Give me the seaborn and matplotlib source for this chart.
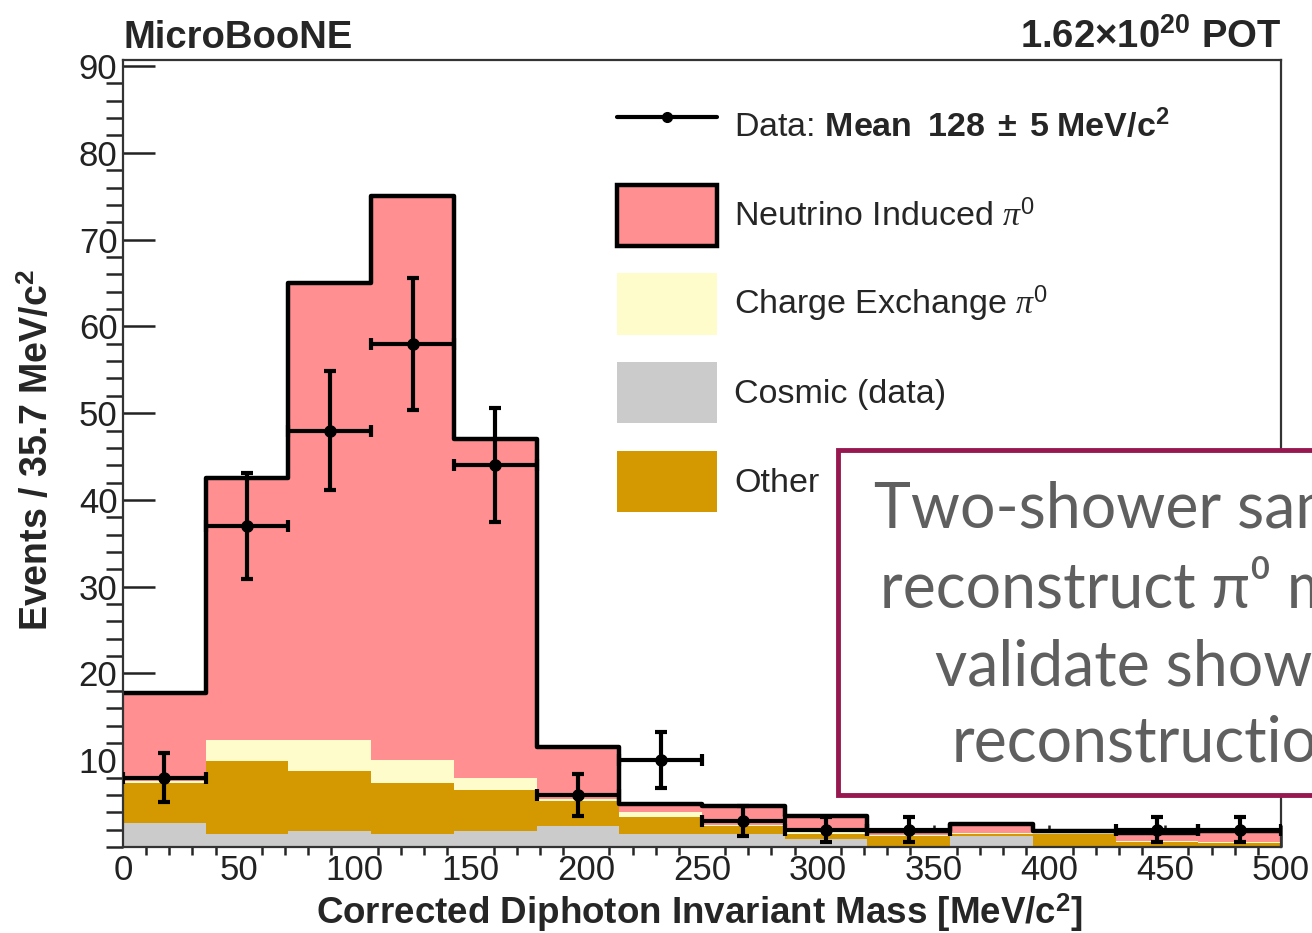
import numpy as np
import pandas as pd
import matplotlib
matplotlib.use("Agg")
import matplotlib.pyplot as plt
import seaborn as sns
from matplotlib.patches import Rectangle, Patch
from matplotlib.lines import Line2D
from matplotlib.ticker import MultipleLocator

# 14 bins of 35.7 MeV/c^2
bin_edges = [0, 35.7, 71.4, 107.1, 142.9, 178.6, 214.3, 250, 285.7, 321.4,
             357.1, 392.9, 428.6, 464.3, 500]

# stacked components, bottom to top
cosmic = [2.8, 1.5, 1.8, 1.5, 1.8, 2.4, 1.5, 1.5, 0.9, 0.1, 1.3, 0.0, 0.1, 0.1]
other = [4.6, 8.4, 7.0, 5.9, 4.8, 2.9, 1.9, 0.9, 0.6, 1.2, 0.2, 1.5, 0.5, 0.4]
cex = [0.2, 2.4, 3.5, 2.6, 1.4, 0.2, 0.6, 0.1, 0.2, 0.1, 0.1, 0.1, 0.1, 0.1]
nu = [10.2, 30.2, 52.7, 65.0, 39.0, 6.0, 1.0, 2.2, 1.9, 0.5, 1.0, 0.2, 0.9, 1.3]

# data points
data = [8, 37, 48, 58, 44, 6, 10, 3, 2, 2, 0, 0, 2, 2]
data_err = [2.8, 6.1, 6.9, 7.6, 6.6, 2.4, 3.2, 1.7, 1.4, 1.4, 0, 0, 1.4, 1.4]

labels = ["Neutrino Induced $\\pi^{0}$", "Charge Exchange $\\pi^{0}$",
          "Cosmic (data)", "Other"]
colors = {"nu": "#ff8f91", "cex": "#fffccb", "cosmic": "#cbcbcb", "other": "#d49800"}

edges = np.array(bin_edges)
centers = 0.5 * (edges[1:] + edges[:-1])
half_w = 0.5 * (edges[1:] - edges[:-1])

df = pd.DataFrame({"mass": centers, "cosmic": cosmic, "other": other,
                   "cex": cex, "nu": nu, "data": data, "err": data_err})
df["lvl_cosmic"] = df["cosmic"]
df["lvl_other"] = df["lvl_cosmic"] + df["other"]
df["lvl_cex"] = df["lvl_other"] + df["cex"]
df["lvl_nu"] = df["lvl_cex"] + df["nu"]

sns.set_style("ticks")
plt.rcParams["font.family"] = ["Liberation Sans", "DejaVu Sans"]
plt.rcParams["mathtext.fontset"] = "custom"
plt.rcParams["mathtext.rm"] = "Liberation Sans"
plt.rcParams["mathtext.bf"] = "Liberation Sans:bold"
plt.rcParams["mathtext.it"] = "Liberation Serif:italic"

fig = plt.figure(figsize=(13.12, 9.33), dpi=100)
ax = fig.add_axes([123 / 1312, 1 - 847 / 933, 1158 / 1312, 787 / 933])

# stack drawn as overlapping cumulative levels, top level first
for key in ["nu", "cex", "other", "cosmic"]:
    sns.histplot(data=df, x="mass", weights="lvl_" + key, bins=bin_edges,
                 element="step", fill=True, color=colors[key], alpha=1,
                 linewidth=0, ax=ax)
sns.histplot(data=df, x="mass", weights="lvl_nu", bins=bin_edges,
             element="step", fill=False, color="black", linewidth=3.2, ax=ax)

mask = df["data"] > 0
pts = df[mask]
ax.errorbar(pts["mass"], pts["data"], xerr=half_w[mask], yerr=pts["err"],
            fmt="o", color="black", ms=8, elinewidth=3, capsize=4, capthick=3,
            zorder=5)

ax.set_xlim(0, 500)
ax.set_ylim(0, 90.7)
ax.set_xticks(range(0, 501, 50))
ax.set_yticks(range(10, 91, 10))
ax.xaxis.set_minor_locator(MultipleLocator(10))
ax.yaxis.set_minor_locator(MultipleLocator(2))
ax.tick_params(direction="in", top=False, right=False, colors="#222222",
               labelsize=25, width=1.8)
ax.tick_params(axis="y", which="major", length=23, pad=4)
ax.tick_params(axis="y", which="minor", length=12, width=1.8)
ax.tick_params(axis="x", which="major", length=16, pad=5)
ax.tick_params(axis="x", which="minor", length=6, width=1.8)
for s in ax.spines.values():
    s.set_linewidth(1.6)
    s.set_color("#333333")

ax.set_xlabel("Corrected Diphoton Invariant Mass [MeV/c$^{\\mathbf{2}}$]",
              fontsize=26.5, fontweight="bold")
ax.set_ylabel("Events / 35.7 MeV/c$^{\\mathbf{2}}$", fontsize=27, fontweight="bold")
ax.xaxis.set_label_coords(0.498, -0.056)
ax.yaxis.set_label_coords(-0.058, 0.504)

ax.text(0, 1.015, "MicroBooNE", transform=ax.transAxes, fontsize=27.5,
        fontweight="bold", va="baseline", ha="left")
ax.text(1, 1.015, "$\\mathbf{1.62{\\times}10^{20}}$ POT", transform=ax.transAxes,
        fontsize=27.5, fontweight="bold", va="baseline", ha="right")

handles = [
    Line2D([], [], color="black", lw=3, marker="o", ms=7),
    Patch(facecolor=colors["nu"], edgecolor="black", linewidth=3.2),
    Patch(facecolor=colors["cex"], edgecolor="none"),
    Patch(facecolor=colors["cosmic"], edgecolor="none"),
    Patch(facecolor=colors["other"], edgecolor="none"),
]
leg_labels = ["Data: $\\mathbf{Mean\\ \\ 128\\ \\pm\\ 5\\ MeV/c^{2}}$"] + labels
ax.legend(handles, leg_labels, loc="upper left",
          bbox_to_anchor=(617 / 1312, 1 - 96 / 933), bbox_transform=fig.transFigure,
          frameon=False, fontsize=24.5, handlelength=2.95, handleheight=2.4,
          handletextpad=0.5, labelspacing=0.8, borderpad=0, borderaxespad=0)

# slide annotation box on top of the plot
fig.patches.append(Rectangle((838 / 1312, 1 - 795 / 933), 0.5, 345 / 933,
                             transform=fig.transFigure, facecolor="white",
                             edgecolor="#971850", linewidth=3.5, zorder=2))
box_lines = ["Two-shower sample", "reconstruct \u03c0\u2070 mass",
             "validate shower", "reconstruction"]
baselines = [528, 607, 685, 762]
for txt, yb in zip(box_lines, baselines):
    fig.text(1152 / 1312, 1 - yb / 933, txt, ha="center", va="baseline",
             fontsize=45, color="#5f5f5f", family=["Lato", "DejaVu Sans"],
             zorder=3)

fig.savefig("out.png", dpi=100)
